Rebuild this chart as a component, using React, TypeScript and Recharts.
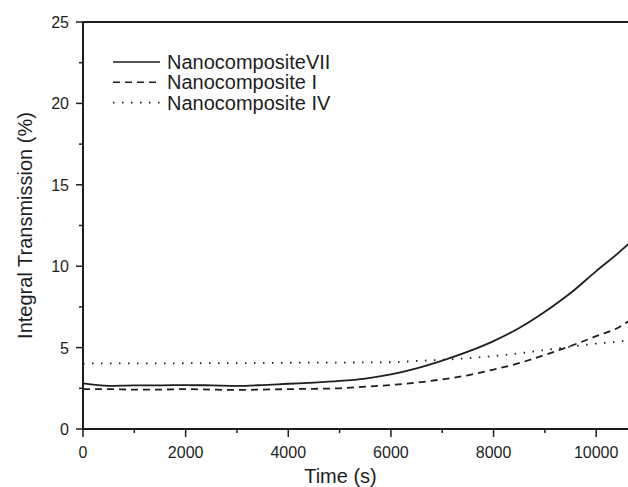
import React from "react";
import {
	LineChart,
	Line,
	XAxis,
	YAxis,
	ReferenceLine,
	Legend,
	Label,
} from "recharts";

// time (s)
const times = [
	0, 500, 1000, 1500, 2000, 2500, 3000, 3500, 4000, 4500, 5000, 5500, 6000,
	6500, 7000, 7500, 8000, 8500, 9000, 9500, 10000, 10500, 10620,
];
// integral transmission (%)
const nanoVII = [
	2.8, 2.65, 2.68, 2.68, 2.7, 2.68, 2.65, 2.7, 2.78, 2.85, 2.95, 3.1, 3.35,
	3.72, 4.2, 4.75, 5.4, 6.2, 7.2, 8.35, 9.7, 11.0, 11.35,
];
const nanoI = [
	2.45, 2.45, 2.42, 2.42, 2.45, 2.42, 2.4, 2.42, 2.45, 2.47, 2.5, 2.6, 2.7,
	2.85, 3.05, 3.3, 3.65, 4.05, 4.55, 5.1, 5.7, 6.35, 6.6,
];
const nanoIV = [
	4.02, 4.03, 4.03, 4.03, 4.04, 4.05, 4.05, 4.06, 4.07, 4.08, 4.08, 4.09, 4.1,
	4.18, 4.25, 4.35, 4.48, 4.65, 4.85, 5.05, 5.25, 5.4, 5.47,
];

const xTicks = [0, 1000, 2000, 3000, 4000, 5000, 6000, 7000, 8000, 9000, 10000];
const yTicks = [0, 2.5, 5, 7.5, 10, 12.5, 15, 17.5, 20, 22.5, 25];

const series = [
	{ key: "vii", name: "NanocompositeVII", dash: undefined },
	{ key: "i", name: "Nanocomposite I", dash: "7 5" },
	{ key: "iv", name: "Nanocomposite IV", dash: "1.5 7.5" },
];

const data = times.map((t, i) => ({
	t,
	vii: nanoVII[i],
	i: nanoI[i],
	iv: nanoIV[i],
}));

const INK = "#1e1e1e";
const FONT = "'Liberation Sans', Arial, sans-serif";

const XTick = (props: any) => {
	const { x, y, payload } = props;
	const major = payload.value % 2000 === 0;
	return (
		<g>
			<line x1={x} y1={y} x2={x} y2={y + (major ? 8 : 4)} stroke={INK} strokeWidth={1.5} />
			{major && (
				<text x={x} y={y + 29} textAnchor="middle" fontSize={16} fill={INK} fontFamily={FONT}>
					{payload.value}
				</text>
			)}
		</g>
	);
};

const YTick = (props: any) => {
	const { x, y, payload } = props;
	const major = payload.value % 5 === 0;
	return (
		<g>
			<line x1={x} y1={y} x2={x - (major ? 7 : 4)} y2={y} stroke={INK} strokeWidth={1.5} />
			{major && (
				<text x={x - 14} y={y + 6} textAnchor="end" fontSize={16} fill={INK} fontFamily={FONT}>
					{payload.value}
				</text>
			)}
		</g>
	);
};

const LegendBox = () => (
	<svg width={260} height={70} style={{ display: "block" }}>
		{series.map((s, i) => (
			<g key={s.key}>
				<line
					x1={0}
					x2={47}
					y1={10 + i * 20.3}
					y2={10 + i * 20.3}
					stroke={INK}
					strokeWidth={1.6}
					strokeDasharray={s.dash}
				/>
				<text x={54} y={17 + i * 20.3} fontSize={20} fill={INK} fontFamily={FONT}>
					{s.name}
				</text>
			</g>
		))}
	</svg>
);

export default function App() {
	return (
		<div style={{ position: "absolute", left: 0, top: 0, background: "#fff" }}>
			<LineChart
				width={628}
				height={487}
				data={data}
				margin={{ top: 22, right: 0, bottom: 0, left: 0 }}
			>
				<XAxis
					dataKey="t"
					type="number"
					domain={[0, 10620]}
					ticks={xTicks}
					interval={0}
					allowDataOverflow
					height={58}
					tickSize={0}
					tickMargin={0}
					tick={<XTick />}
					axisLine={{ stroke: INK, strokeWidth: 2 }}
				>
					<Label
						content={(p: any) => (
							<text
								x={p.viewBox.x + p.viewBox.width / 2 - 15}
								y={p.viewBox.y + 54}
								textAnchor="middle"
								fontSize={20}
								fill={INK}
								fontFamily={FONT}
							>
								Time (s)
							</text>
						)}
					/>
				</XAxis>
				<YAxis
					type="number"
					domain={[0, 25]}
					ticks={yTicks}
					interval={0}
					width={83}
					tickSize={0}
					tickMargin={0}
					tick={<YTick />}
					axisLine={{ stroke: INK, strokeWidth: 2 }}
				>
					<Label
						content={(p: any) => {
							const cx = 32;
							const cy = p.viewBox.y + p.viewBox.height / 2;
							return (
								<text
									x={cx}
									y={cy}
									transform={`rotate(-90 ${cx} ${cy})`}
									textAnchor="middle"
									fontSize={20}
									fill={INK}
									fontFamily={FONT}
								>
									Integral Transmission (%)
								</text>
							);
						}}
					/>
				</YAxis>
				<ReferenceLine y={25} stroke={INK} strokeWidth={2} />
				<Legend
					content={<LegendBox />}
					layout="vertical"
					verticalAlign="middle"
					align="center"
					wrapperStyle={{ left: 113, top: 52, width: 260, height: 70 }}
				/>
				{series.map((s) => (
					<Line
						key={s.key}
						dataKey={s.key}
						name={s.name}
						type="monotone"
						stroke={INK}
						strokeWidth={1.8}
						strokeDasharray={s.dash}
						dot={false}
						activeDot={false}
						isAnimationActive={false}
					/>
				))}
			</LineChart>
		</div>
	);
}
